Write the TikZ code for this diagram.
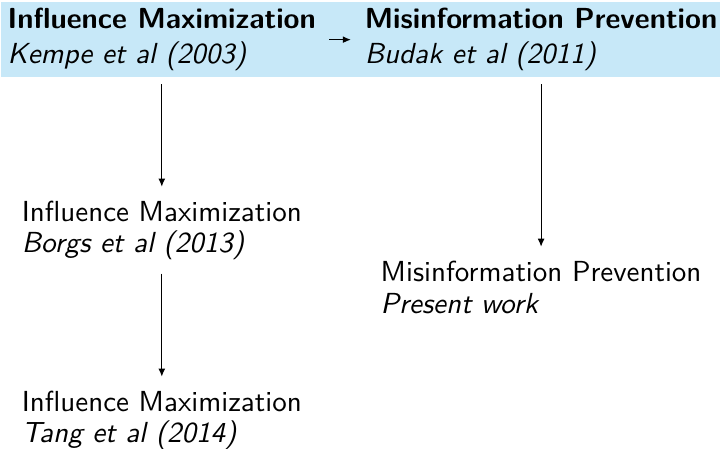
\documentclass[tikz,border=0pt]{standalone}
\usepackage{xcolor}
\usepackage{tikz}
\usetikzlibrary{arrows.meta, backgrounds}
\definecolor{bandblue}{RGB}{199, 232, 248}

\begin{document}
\begin{tikzpicture}[
    x=1pt, y=1pt,
    font=\sffamily,
    karya/.style={align=left, anchor=north, inner sep=2pt},
    panah/.style={-{Latex[length=2.8pt, width=2.4pt]}, shorten <=2.4pt,
                  shorten >=2.6pt}
  ]
    \useasboundingbox (0,0) rectangle (248.3,-154.8);
    \node[karya] (kempe) at (55.8,-0.7)
      {\textbf{Influence Maximization}\\\textit{Kempe et al (2003)}};
    \node[karya] (budak) at (186.6,-0.7)
      {\textbf{Misinformation Prevention}\\\textit{Budak et al (2011)}};
    \node[karya] (borgs) at (55.8,-67.0)
      {Influence Maximization\\[-1pt]\textit{Borgs et al (2013)}};
    \node[karya] (tang) at (55.8,-132.5)
      {Influence Maximization\\[-1pt]\textit{Tang et al (2014)}};
    \node[karya] (present) at (186.6,-87.7)
      {Misinformation Prevention\\[-1pt]\textit{Present work}};
    \begin{scope}[on background layer]
      \fill[bandblue] (kempe.north west) rectangle (budak.south east);
    \end{scope}
    \draw[panah] (kempe.east) -- (budak.west);
    \draw[panah] (kempe.south) -- (borgs.north);
    \draw[panah] (borgs.south) -- (tang.north);
    \draw[panah] (budak.south) -- (present.north);
  \end{tikzpicture}
\end{document}
